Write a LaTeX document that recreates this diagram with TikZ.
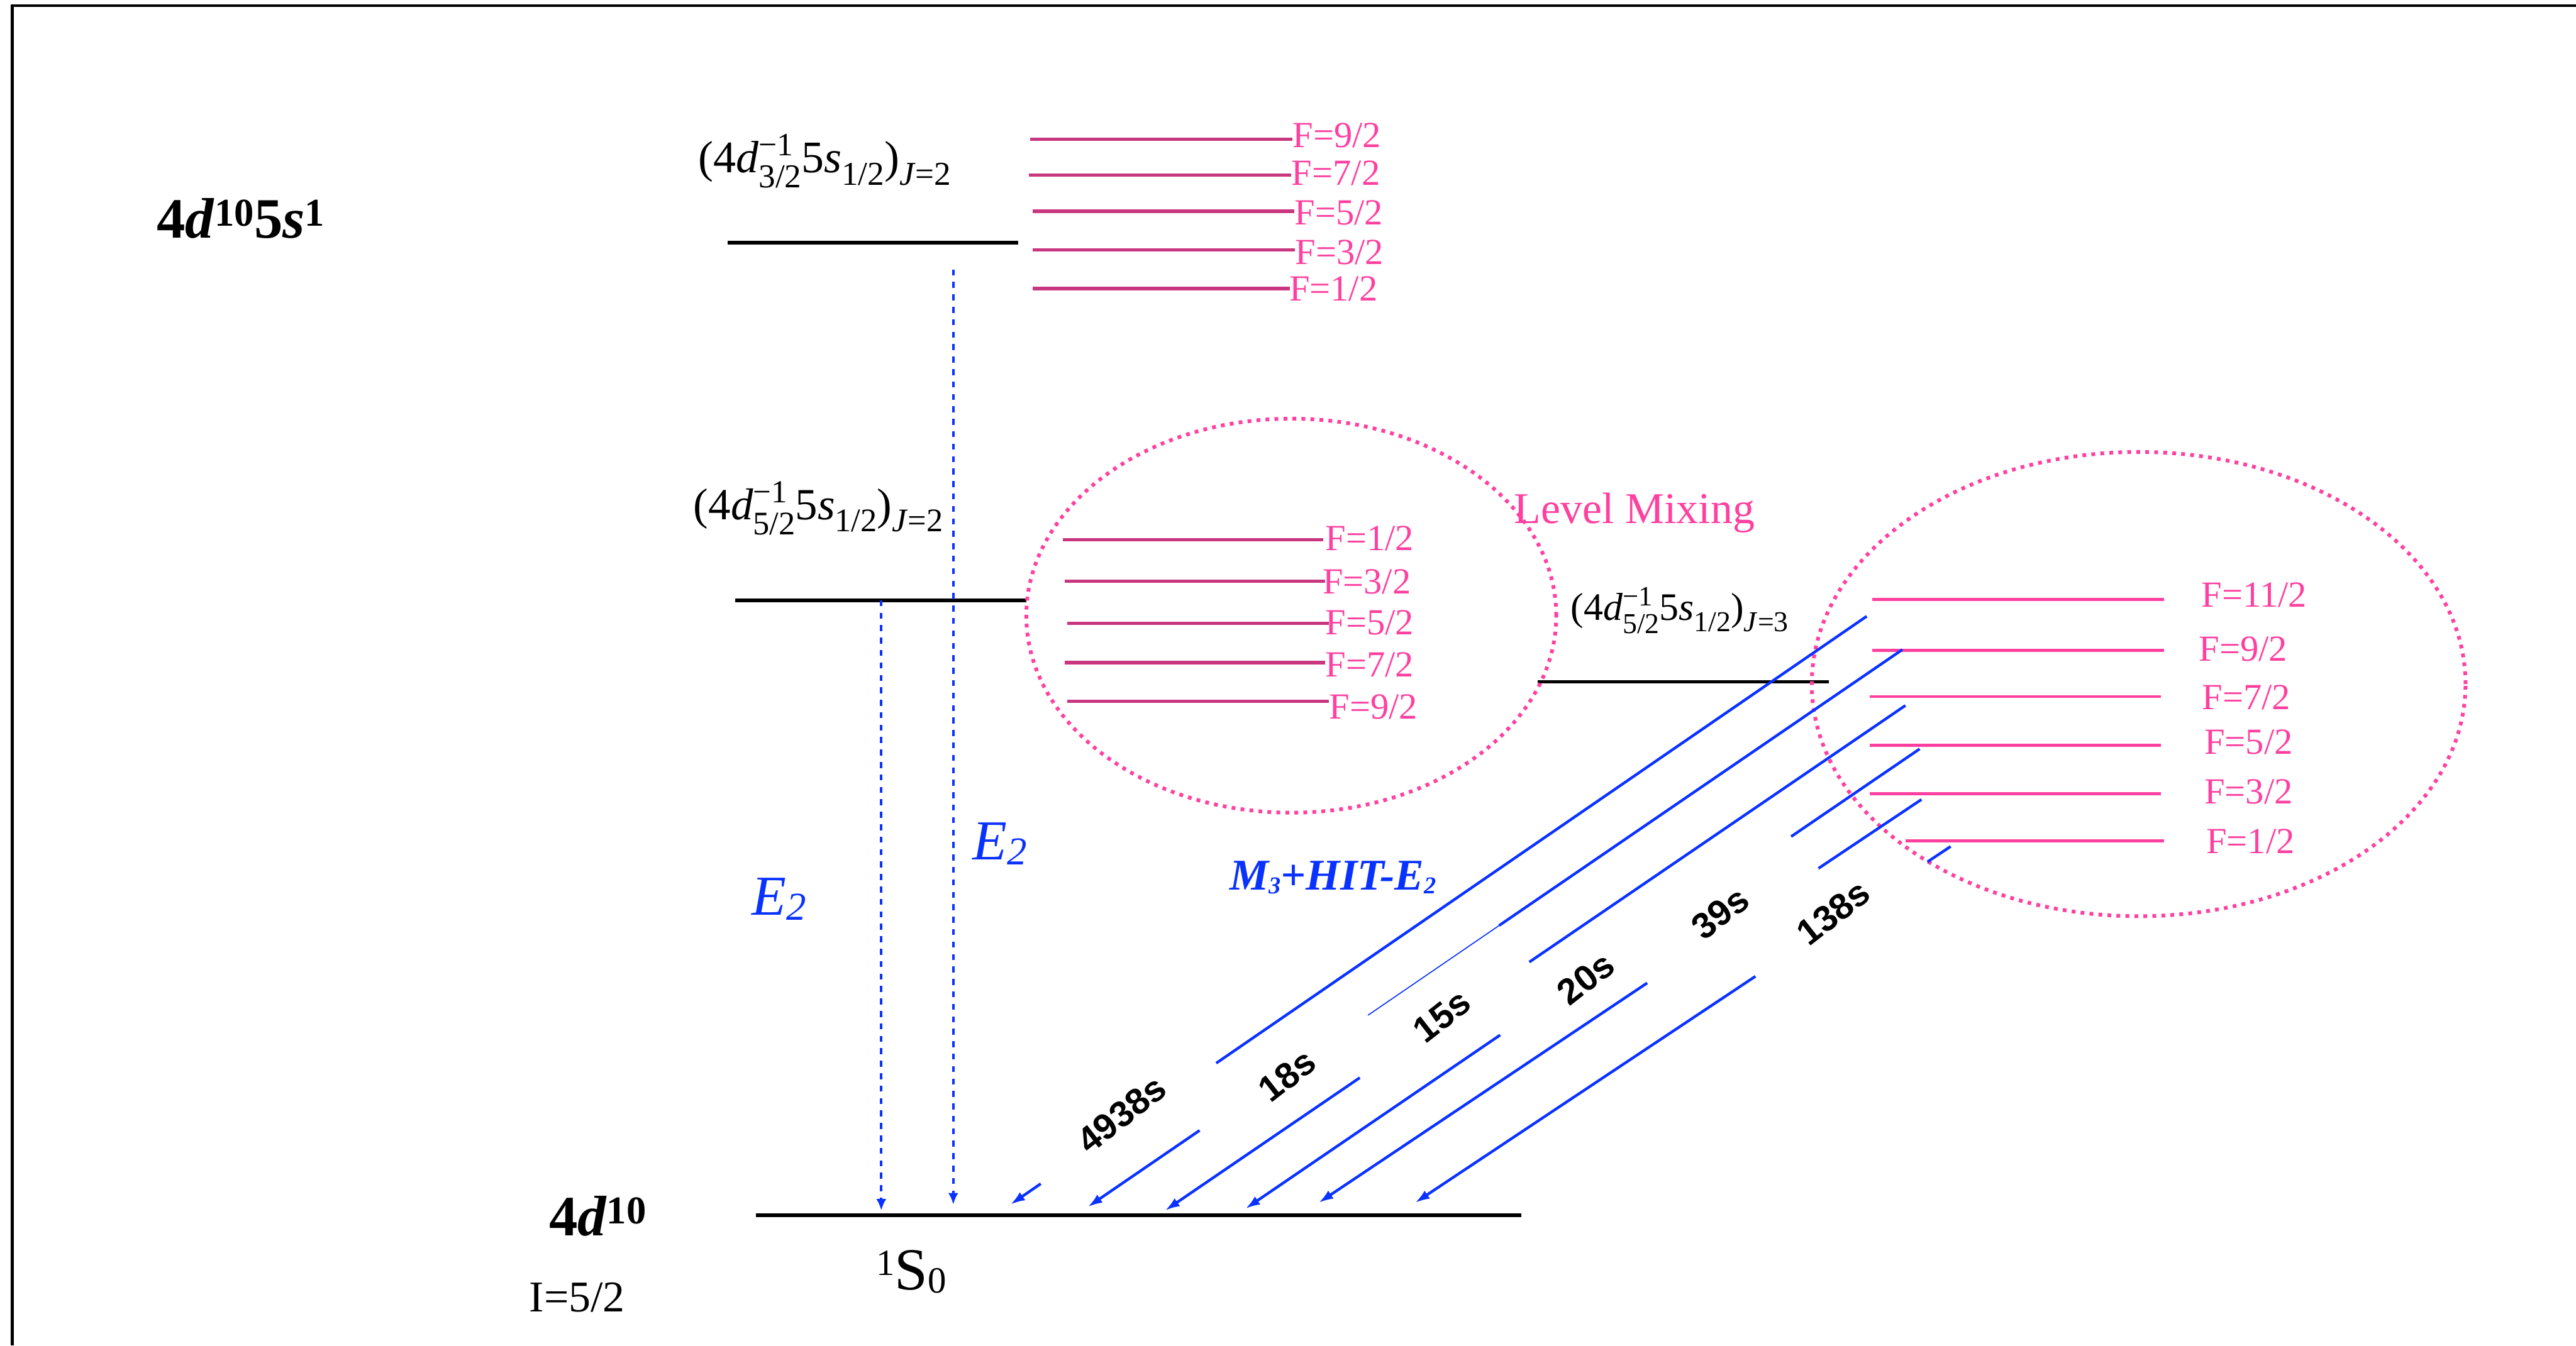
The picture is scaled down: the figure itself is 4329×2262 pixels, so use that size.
\documentclass[tikz,border=0pt]{standalone}
\usepackage{fontspec}
\usepackage{graphicx}
\setmainfont{Liberation Serif}
\newfontfamily\lsans{Liberation Sans}
\usetikzlibrary{arrows.meta,calc,shapes.geometric}
\definecolor{tblue}{RGB}{10,50,255}
\definecolor{hfdark}{RGB}{200,54,128}
\definecolor{hfpink}{RGB}{255,64,160}
\definecolor{tpink}{RGB}{255,64,160}
\newcommand{\fsz}[1]{\fontsize{#1}{#1}\selectfont}
\newcommand{\ssub}[1]{\raisebox{-0.28em}{\scalebox{0.74}{#1}}}
\newcommand{\dsub}[1]{\raisebox{-0.34em}{\scalebox{0.74}{#1}}}
\newcommand{\ssup}[1]{\raisebox{0.37em}{\scalebox{0.72}{#1}}}
\newcommand{\supsub}[2]{\rlap{\ssup{#1}}\dsub{#2}}
\newcommand{\cfg}[2]{(4\textit{d}\supsub{−1}{#1}5\textit{s}\ssub{1/2})\ssub{\textit{J}=#2}}
\newcommand{\bsup}[1]{\raisebox{0.21em}{\scalebox{0.69}{#1}}}
\begin{document}
\begin{tikzpicture}[x=0.01cm,y=-0.01cm,
 lvl/.style={line width=1.7pt, draw=black},
 hfd/.style={line width=1.6pt, draw=hfdark},
 hfp/.style={line width=1.5pt, draw=hfpink},
 flab/.style={text=tpink, font=\fsz{17.6pt}, inner sep=0pt, anchor=west},
 jlab/.style={inner sep=0pt, anchor=base west},
 mixell/.style={ellipse, draw=hfpink, line width=1.8pt, dash pattern=on 1.8pt off 2.5pt, inner sep=0pt},
 trline/.style={draw=tblue, line width=1.3pt},
 trthin/.style={draw=tblue, line width=0.5pt},
 trtip/.style={draw=tblue, line width=1.3pt, -{Latex[length=7pt,width=4.6pt]}},
 e2arr/.style={draw=tblue, line width=1.3pt, dash pattern=on 2.85pt off 3.1pt, -{Latex[length=5.5pt,width=4.8pt]}},
 tlab/.style={font=\lsans\bfseries\fsz{17.3pt}, rotate=38, inner sep=0pt}]
\useasboundingbox (0,0) rectangle (4329,2262);
% frame
\draw[line width=1.5pt] (20.5,2262) -- (20.5,9.5) -- (4329,9.5);

% left labels
\node[jlab, font=\fsz{27.3pt}] (cfgup) at (263,400) {\textbf{4\textit{d}\bsup{10}5\textit{s}\bsup{1}}};
\node[jlab, font=\fsz{27.3pt}] (cfgdn) at (922,2077) {\textbf{4\textit{d}\bsup{10}}};
\node[jlab, font=\fsz{21pt}] (spin) at (889,2205) {I=5/2};
\node[jlab, font=\fsz{28.5pt}] (gsl) at (1472,2168) {\raisebox{0.24em}{\scalebox{0.62}{1}}S\raisebox{-0.05em}{\scalebox{0.62}{0}}};

% fine-structure levels
\coordinate (upL) at (1223,408); \coordinate (upR) at (1711,408);
\coordinate (miL) at (1235,1009); \coordinate (miR) at (1725,1009);
\coordinate (j3L) at (2584,1146); \coordinate (j3R) at (3073,1146);
\coordinate (gnL) at (1270,2043); \coordinate (gnR) at (2557,2043);
\draw[lvl] (upL) -- (upR);
\draw[lvl] (miL) -- (miR);
\draw[lvl] (j3L) -- (j3R);
\draw[lvl] (gnL) -- (gnR);

\node[jlab, font=\fsz{21.6pt}] (lab32) at (1173,290) {\cfg{3/2}{2}};
\node[jlab, font=\fsz{21.3pt}] (lab52) at (1165,873) {\cfg{5/2}{2}};
\node[jlab, font=\fsz{18.6pt}] (lab53) at (2639,1043) {\cfg{5/2}{3}};

% level mixing ellipses
\node[mixell, minimum width=8.9cm, minimum height=6.62cm] (mixA) at (2170,1035) {};
\node[mixell, minimum width=10.98cm, minimum height=7.8cm] (mixB) at (3594,1150) {};
\node[jlab, text=tpink, font=\fsz{21pt}] (mixlab) at (2544,880) {Level Mixing};

% hyperfine levels, upper J=2
\draw[hfd] (1731,234) -- (2172,234);
\draw[hfd] (1729,294) -- (2170,294);
\draw[hfd] (1735,355) -- (2175,355);
\draw[hfd] (1735,420) -- (2176,420);
\draw[hfd] (1735,485) -- (2168,485);
\node[flab] (a92) at (2172,228) {F=9/2};
\node[flab] (a72) at (2170,291) {F=7/2};
\node[flab] (a52) at (2175,358) {F=5/2};
\node[flab] (a32) at (2176,424) {F=3/2};
\node[flab] (a12) at (2166,486) {F=1/2};

% hyperfine levels, middle J=2
\draw[hfd] (1786,907) -- (2224,907);
\draw[hfd] (1789,977) -- (2227,977);
\draw[hfd] (1794,1048) -- (2233,1048);
\draw[hfd] (1789,1114) -- (2227,1114);
\draw[hfd] (1794,1179) -- (2233,1179);
\node[flab] (b12) at (2227,905) {F=1/2};
\node[flab] (b32) at (2222,978) {F=3/2};
\node[flab] (b52) at (2227,1047) {F=5/2};
\node[flab] (b72) at (2227,1118) {F=7/2};
\node[flab] (b92) at (2233,1188) {F=9/2};

% hyperfine levels, J=3
\draw[hfp] (3146,1008) -- (3637,1008);
\draw[hfp] (3146,1093) -- (3637,1093);
\draw[hfp] (3142,1171) -- (3631,1171);
\draw[hfp] (3142,1253) -- (3631,1253);
\draw[hfp] (3142,1334) -- (3631,1334);
\draw[hfp] (3202,1414) -- (3637,1414);
\node[flab] (c112) at (3699,1000) {F=11/2};
\node[flab] (c92) at (3695,1091) {F=9/2};
\node[flab] (c72) at (3700,1172) {F=7/2};
\node[flab] (c52) at (3704,1248) {F=5/2};
\node[flab] (c32) at (3704,1331) {F=3/2};
\node[flab] (c12) at (3707,1414) {F=1/2};

% E2 decays
\coordinate (e2aS) at (1602,453); \coordinate (e2aT) at (1602,2025);
\coordinate (e2bS) at (1481,1009); \coordinate (e2bT) at (1481,2035);
\draw[e2arr] (e2aS) -- (e2aT);
\draw[e2arr] (e2bS) -- (e2bT);
\node[jlab, text=tblue, font=\fsz{27pt}] (e2l) at (1263,1538) {\textit{E}\raisebox{-0.095em}{\scalebox{0.7}{\textit{2}}}};
\node[jlab, text=tblue, font=\fsz{27pt}] (e2r) at (1634,1445) {\textit{E}\raisebox{-0.095em}{\scalebox{0.7}{\textit{2}}}};

% M3 + HIT-E2 decays
\node[jlab, text=tblue, font=\fsz{21pt}] (m3lab) at (2066,1496) {\textbf{\textit{M\raisebox{-0.08em}{\scalebox{0.55}{3}}+HIT-E\raisebox{-0.08em}{\scalebox{0.55}{2}}}}};

\coordinate (s1) at (3137,1036); \coordinate (t1) at (1698,2025);
\coordinate (s2) at (3197,1092); \coordinate (t2) at (1828,2029);
\coordinate (s3) at (3202,1186); \coordinate (t3) at (1958,2035);
\coordinate (s4) at (3226,1259); \coordinate (t4) at (2093,2032);
\coordinate (s5) at (3229,1344); \coordinate (t5) at (2216,2022);
\coordinate (s6) at (3278,1423); \coordinate (t6) at (2378,2022);

\draw[trline] (s1) -- ($(s1)!0.7596!(t1)$);
\draw[trtip] ($(s1)!0.9646!(t1)$) -- (t1);
\draw[trline] (s2) -- ($(s2)!0.495!(t2)$);
\draw[trthin] ($(s2)!0.495!(t2)$) -- ($(s2)!0.656!(t2)$);
\draw[trtip] ($(s2)!0.8627!(t2)$) -- (t2);
\draw[trline] (s3) -- ($(s3)!0.508!(t3)$);
\draw[trtip] ($(s3)!0.737!(t3)$) -- (t3);
\draw[trline] (s4) -- ($(s4)!0.1906!(t4)$);
\draw[trtip] ($(s4)!0.6222!(t4)$) -- (t4);
\draw[trline] (s5) -- ($(s5)!0.1708!(t5)$);
\draw[trtip] ($(s5)!0.4551!(t5)$) -- (t5);
\draw[trline] (s6) -- ($(s6)!0.0433!(t6)$);
\draw[trtip] ($(s6)!0.3644!(t6)$) -- (t6);

\node[tlab] (tl1) at (1885,1873) {4938s};
\node[tlab] (tl2) at (2163,1808) {18s};
\node[tlab] (tl3) at (2423,1708) {15s};
\node[tlab] (tl4) at (2665,1645) {20s};
\node[tlab] (tl5) at (2891,1535) {39s};
\node[tlab] (tl6) at (3081,1534) {138s};
\end{tikzpicture}
\end{document}
